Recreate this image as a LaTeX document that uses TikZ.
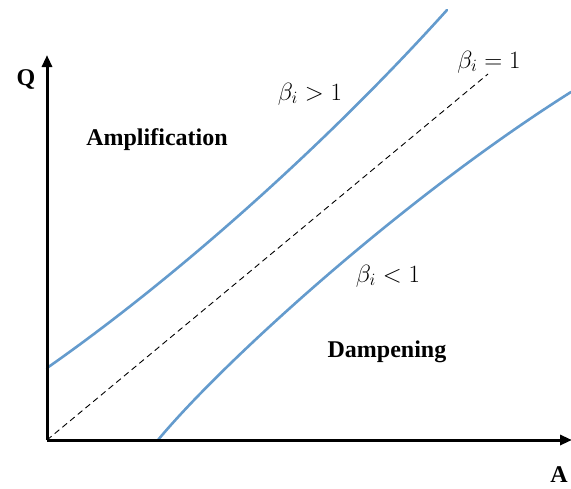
\documentclass[tikz,border=0pt]{standalone}
\usepackage{fontspec}
\setmainfont{Liberation Serif}
\usetikzlibrary{arrows.meta}
\definecolor{curveblue}{RGB}{100,155,205}
\tikzset{
  axis/.style={line width=3pt,-{Triangle[length=12pt,width=10pt]}},
  bcurve/.style={curveblue,line width=2.6pt,line cap=round},
  unit/.style={black,dashed,line width=0.9pt,dash pattern=on 6pt off 4pt},
  lbl/.style={font=\bfseries\fontsize{24}{28}\selectfont,anchor=base,inner sep=0pt},
  mlbl/.style={font=\fontsize{26}{30}\selectfont,anchor=base,inner sep=0pt}
}
\begin{document}
\begin{tikzpicture}[x=1pt,y=-1pt]
\useasboundingbox (0,0) rectangle (571,488);
\clip (0,0) rectangle (571,488);
\coordinate (O) at (47,440);
\coordinate (Ytop) at (47,55);
\coordinate (Xend) at (572,440);
\coordinate (Dend) at (488,74);
\draw[unit] (O) -- (Dend);
\draw[bcurve] (47,368) .. controls (180,275) and (330,140) .. (447,10);
\draw[bcurve] (158,440) .. controls (220,365) and (400,200) .. (571,92);
\draw[axis] (O) -- (Ytop);
\draw[axis] (O) -- (Xend);
\node[lbl] (q) at (26,85) {Q};
\node[lbl] (a) at (559,482) {A};
\node[lbl] (amp) at (157,145) {Amplification};
\node[lbl] (damp) at (387,357) {Dampening};
\node[mlbl] (gt) at (310,100) {$\beta_i > 1$};
\node[mlbl] (eq) at (489,68) {$\beta_i = 1$};
\node[mlbl] (lt) at (388,282) {$\beta_i < 1$};
\end{tikzpicture}
\end{document}
